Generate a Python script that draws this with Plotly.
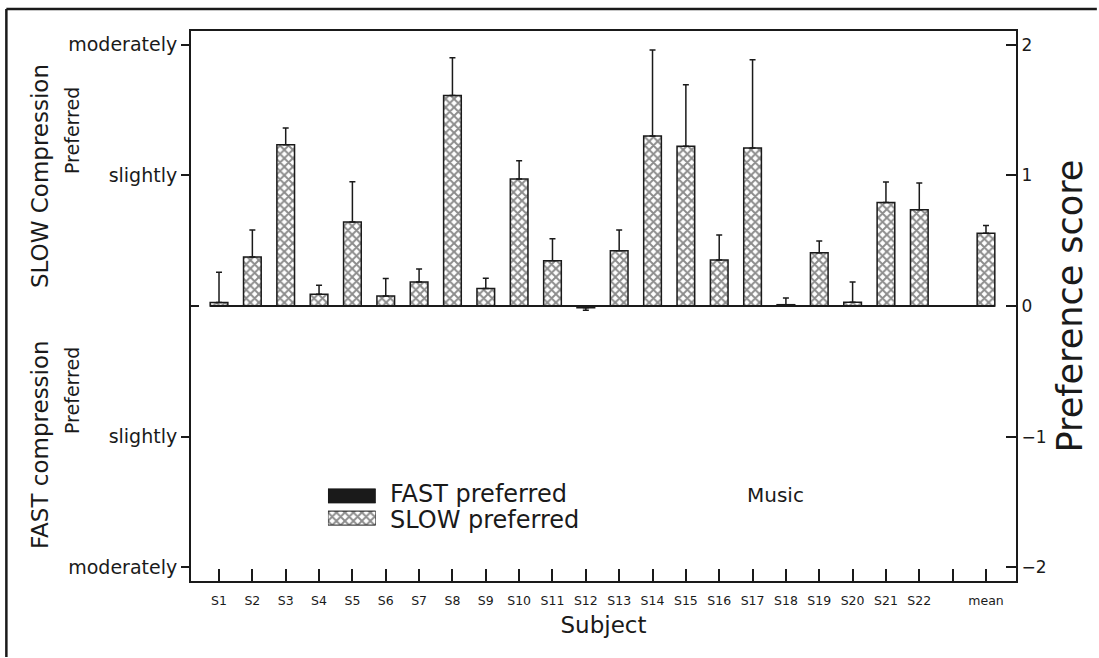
import plotly.graph_objects as go

# ---------------- data ----------------
subjects = ["S1", "S2", "S3", "S4", "S5", "S6", "S7", "S8", "S9", "S10", "S11",
            "S12", "S13", "S14", "S15", "S16", "S17", "S18", "S19", "S20", "S21",
            "S22", "mean"]
scores = [0.026, 0.375, 1.235, 0.089, 0.643, 0.077, 0.184, 1.612, 0.133, 0.972,
          0.347, -0.013, 0.423, 1.301, 1.222, 0.352, 1.209, 0.010, 0.408, 0.028,
          0.793, 0.737, 0.556]
errors = [0.232, 0.207, 0.128, 0.069, 0.309, 0.133, 0.099, 0.288, 0.079, 0.140,
          0.168, 0.020, 0.158, 0.658, 0.472, 0.191, 0.676, 0.051, 0.089, 0.156,
          0.156, 0.204, 0.061]
positions = list(range(1, 23)) + [24]          # a gap is left before "mean"
tick_positions = list(range(1, 25))
tick_labels = subjects[:22] + [""] + ["mean"]
y_ticks_left = [-2, -1, 1, 2]
y_left_labels = ["moderately", "slightly", "slightly", "moderately"]
y_ticks_right = [-2, -1, 0, 1, 2]
y_right_labels = ["\u22122", "\u22121", "0", "1", "2"]

FONT = "DejaVu Sans"
INK = "#1a1a1a"
BAR_W = 0.53
YR = [-2.105, 2.105]

slow_y = [v if v >= 0 else None for v in scores]
slow_up = [e if v >= 0 else 0 for v, e in zip(scores, errors)]
fast_y = [v if v < 0 else None for v in scores]
fast_dn = [e if v < 0 else 0 for v, e in zip(scores, errors)]

PATTERN = dict(shape="x", fgcolor=INK, bgcolor="white", size=6, solidity=0.55)

fig = go.Figure()

fig.add_trace(go.Bar(
    x=positions, y=slow_y, width=BAR_W, name="SLOW preferred",
    marker=dict(color="white", line=dict(color=INK, width=1.5), pattern=PATTERN),
    error_y=dict(type="data", symmetric=False, array=slow_up,
                 arrayminus=[0] * len(scores), color=INK, thickness=1.5, width=3),
    showlegend=False,
))
fig.add_trace(go.Bar(
    x=positions, y=fast_y, width=BAR_W, name="FAST preferred",
    marker=dict(color=INK, line=dict(color=INK, width=1.5)),
    error_y=dict(type="data", symmetric=False, array=[0] * len(scores),
                 arrayminus=fast_dn, color=INK, thickness=1.5, width=3),
    showlegend=False,
))
# empty traces so the right-hand axis and the inner zero tick are drawn
fig.add_trace(go.Scatter(x=[None], y=[None], yaxis="y2", showlegend=False, hoverinfo="skip"))
fig.add_trace(go.Scatter(x=[None], y=[None], yaxis="y3", showlegend=False, hoverinfo="skip"))

# legend swatches drawn on a small inset axis
fig.add_trace(go.Bar(
    x=[1], y=[1], orientation="h", width=0.63, xaxis="x2", yaxis="y4",
    marker=dict(color=INK, line=dict(color=INK, width=1)), showlegend=False,
    hoverinfo="skip",
))
fig.add_trace(go.Bar(
    x=[1], y=[0], orientation="h", width=0.63, xaxis="x2", yaxis="y4",
    marker=dict(color="white", line=dict(color=INK, width=1), pattern=PATTERN),
    showlegend=False, hoverinfo="skip",
))

# zero baseline under bars
x0 = min(positions) - BAR_W / 2
x1 = max(positions) + BAR_W / 2
fig.add_shape(type="line", xref="x", yref="y", x0=x0, x1=x1, y0=0, y1=0,
              line=dict(color=INK, width=2))

# outer frame (left and top edges), kept inside the page
fig.add_shape(type="line", xref="paper", yref="paper", x0=-0.2238, x1=-0.2238,
              y0=-0.138, y1=1.0398, line=dict(color=INK, width=2.5))
fig.add_shape(type="line", xref="paper", yref="paper", x0=-0.2238, x1=1.098,
              y0=1.0398, y1=1.0398, line=dict(color=INK, width=2.5))

axis_common = dict(showgrid=False, zeroline=False, linecolor=INK, linewidth=2,
                   tickcolor=INK, tickwidth=1.5)

fig.update_layout(
    width=1099, height=658,
    margin=dict(l=191, r=83, t=31, b=77),
    plot_bgcolor="white", paper_bgcolor="white",
    font=dict(family=FONT, color=INK),
    barmode="overlay",
    xaxis=dict(range=[0.16, 24.9], tickmode="array", tickvals=tick_positions,
               ticktext=tick_labels, ticks="inside", ticklen=12, mirror=True,
               tickfont=dict(size=12.5, family=FONT), ticklabelstandoff=7,
               title=dict(text="Subject", font=dict(size=23, family=FONT), standoff=10),
               **axis_common),
    yaxis=dict(range=YR, tickmode="array", tickvals=y_ticks_left,
               ticktext=y_left_labels, ticks="outside", ticklen=8,
               tickfont=dict(size=19, family=FONT), **axis_common),
    yaxis2=dict(range=YR, overlaying="y", side="right", anchor="x",
                tickmode="array", tickvals=y_ticks_right, ticktext=y_right_labels,
                ticks="inside", ticklen=10, tickfont=dict(size=17, family=FONT),
                title=dict(text="Preference score", font=dict(size=35, family=FONT),
                           standoff=12),
                **axis_common),
    yaxis3=dict(range=YR, overlaying="y", side="left", anchor="x",
                tickmode="array", tickvals=[0], ticktext=[""], ticks="inside",
                ticklen=8, showticklabels=False, **axis_common),
    xaxis2=dict(domain=[0.166, 0.224], range=[0, 1], visible=False, anchor="y4"),
    yaxis4=dict(domain=[0.0982, 0.1709], range=[-0.4, 1.4], visible=False, anchor="x2"),
)

ann_font = dict(family=FONT, color=INK)
annotations = [
    dict(text="SLOW Compression", x=40, y=176, size=23),
    dict(text="Preferred", x=72, y=130, size=19),
    dict(text="FAST compression", x=40, y=445, size=23),
    dict(text="Preferred", x=72, y=390, size=19),
]
for a in annotations:
    fig.add_annotation(text=a["text"], xref="paper", yref="paper",
                       x=(a["x"] - 191) / 825, y=(581 - a["y"]) / 550,
                       textangle=-90, showarrow=False,
                       xanchor="center", yanchor="middle",
                       font=dict(size=a["size"], **ann_font))

fig.add_annotation(text="FAST preferred", xref="paper", yref="paper",
                   x=(388 - 191) / 825, y=(581 - 494) / 550, xanchor="left",
                   yanchor="middle", showarrow=False, font=dict(size=24, **ann_font))
fig.add_annotation(text="SLOW preferred", xref="paper", yref="paper",
                   x=(388 - 191) / 825, y=(581 - 520) / 550, xanchor="left",
                   yanchor="middle", showarrow=False, font=dict(size=24, **ann_font))
fig.add_annotation(text="Music", xref="x", yref="y", x=17.7, y=-1.45,
                   xanchor="center", yanchor="middle", showarrow=False,
                   font=dict(size=20, **ann_font))

fig.write_html("out.html")
